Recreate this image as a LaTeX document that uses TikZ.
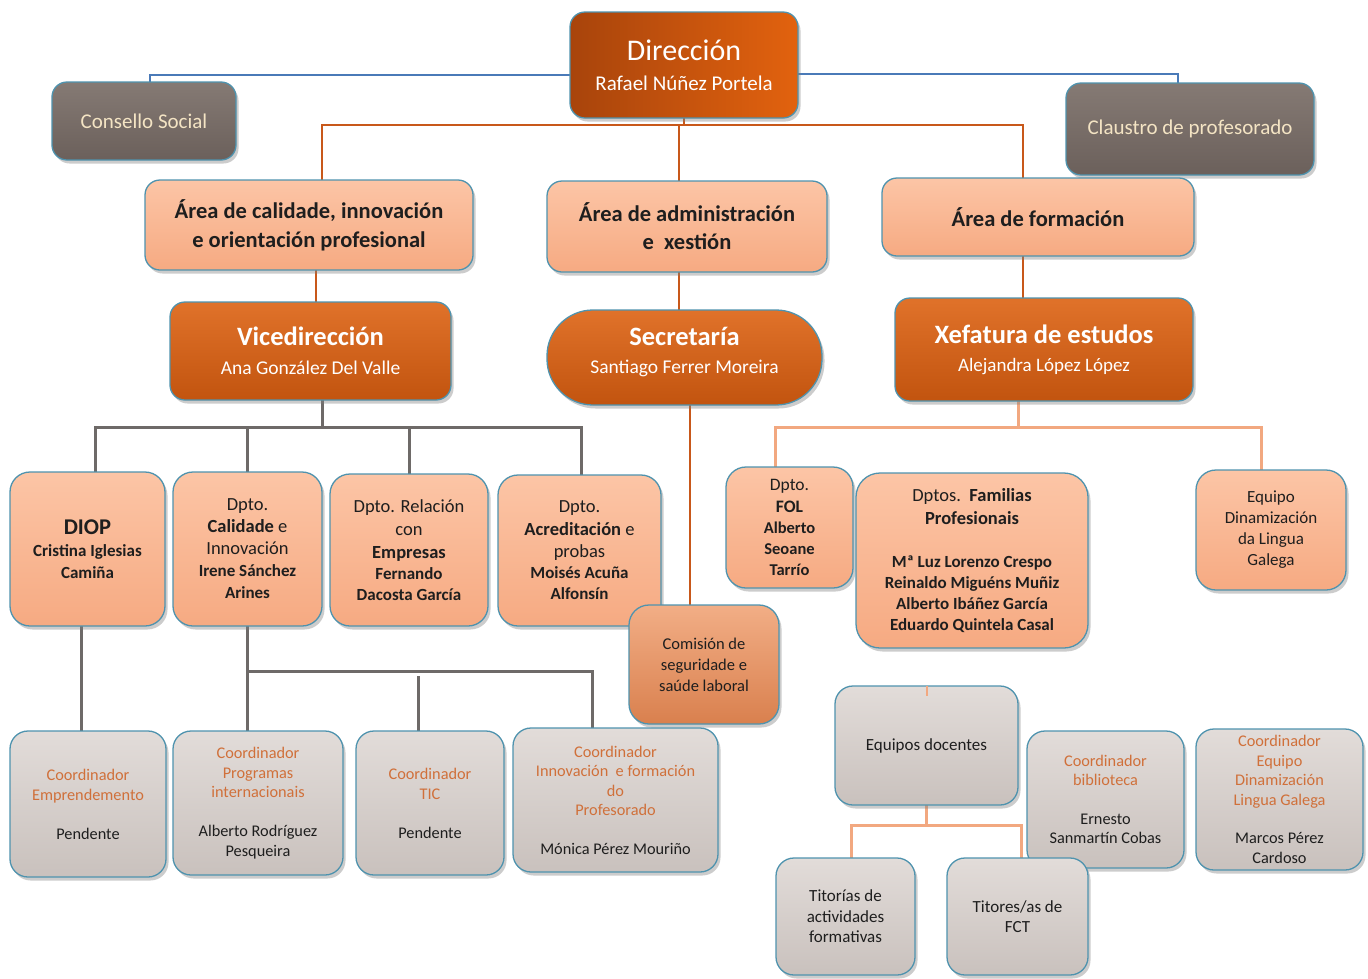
\documentclass[tikz,border=0pt]{standalone}
\usepackage{fontspec}
\setmainfont{Carlito}
\usetikzlibrary{shadows,calc}
\definecolor{bordc}{HTML}{4F93AE}
\definecolor{dkT}{HTML}{E0722A}
\definecolor{dkB}{HTML}{C2540F}
\definecolor{saT}{HTML}{FCC5A6}
\definecolor{saB}{HTML}{F6AA82}
\definecolor{gyT}{HTML}{E2DCD9}
\definecolor{gyB}{HTML}{C9C1BD}
\definecolor{brT}{HTML}{857A74}
\definecolor{brB}{HTML}{6B605B}
\definecolor{brtxt}{HTML}{F4E4C4}
\definecolor{coT}{HTML}{F2AE86}
\definecolor{coB}{HTML}{D9804E}
\definecolor{txt}{HTML}{1E1E1E}
\definecolor{coordc}{HTML}{D0703A}
\definecolor{blueln}{HTML}{4A7AB8}
\definecolor{orln}{HTML}{C8581A}
\definecolor{grln}{HTML}{6E6A68}
\definecolor{saln}{HTML}{F2A880}
\definecolor{mvln}{HTML}{A8959E}
\definecolor{dirL}{HTML}{A8440C}
\definecolor{dirR}{HTML}{E2620E}
\newcommand{\fsz}[2]{\fontsize{#1}{#2}\selectfont}
\newcommand{\co}[1]{\textcolor{coordc}{#1}}
\newcommand{\pb}[2]{\parbox{#1}{\centering #2\par}}
\begin{document}
\begin{tikzpicture}[x=1pt,y=-1pt,
  base/.style={rounded corners=15pt, draw=bordc, line width=1.3pt, inner sep=2pt, text=txt,
    drop shadow={shadow xshift=2.5pt, shadow yshift=-3.5pt, opacity=0.4}},
  darkbox/.style={base, top color=dkT, bottom color=dkB, text=white},
  salbox/.style={base, top color=saT, bottom color=saB},
  greybox/.style={base, rounded corners=18pt, top color=gyT, bottom color=gyB},
  brownbox/.style={base, top color=brT, bottom color=brB, text=brtxt},
  combox/.style={base, top color=coT, bottom color=coB},
  bluec/.style={draw=blueln, line width=2pt},
  orc/.style={draw=orln, line width=2pt},
  grc/.style={draw=grln, line width=3pt},
  sac/.style={draw=saln, line width=3pt},
  mvc/.style={draw=mvln, line width=3pt}
]
\useasboundingbox (0,0) rectangle (1368,978);
\fill[white] (0,0) rectangle (1368,978);

% bus coordinates
\coordinate (dbus) at (684,125);
\coordinate (vbus) at (322,427);
\coordinate (xbus) at (1018,427);
\coordinate (cb1) at (247,671);
\coordinate (cb2) at (592,671);
\coordinate (cb3) at (418,676);
\coordinate (eb) at (926,825);
\coordinate (sl) at (690,405);

% Geometry of the boxes (anchors for the connectors)
\path
 (684,65) node[minimum width=228pt,minimum height=106pt,inner sep=0] (dir) {}
 (144,121) node[minimum width=184pt,minimum height=78pt,inner sep=0] (cons) {}
 (1190,129) node[minimum width=248pt,minimum height=92pt,inner sep=0] (claus) {}
 (309,225) node[minimum width=328pt,minimum height=90pt,inner sep=0] (a1) {}
 (687,226.5) node[minimum width=280pt,minimum height=91pt,inner sep=0] (a2) {}
 (1038,217) node[minimum width=312pt,minimum height=78pt,inner sep=0] (a3) {}
 (310.5,351) node[minimum width=281pt,minimum height=98pt,inner sep=0] (vice) {}
 (684.5,357.5) node[minimum width=275pt,minimum height=95pt,inner sep=0] (sec) {}
 (1044,349.5) node[minimum width=298pt,minimum height=103pt,inner sep=0] (xef) {}
 (87.5,549) node[minimum width=155pt,minimum height=154pt,inner sep=0] (diop) {}
 (247.5,549) node[minimum width=149pt,minimum height=154pt,inner sep=0] (cal) {}
 (409,550) node[minimum width=158pt,minimum height=152pt,inner sep=0] (rel) {}
 (579.5,550.5) node[minimum width=163pt,minimum height=151pt,inner sep=0] (acr) {}
 (704,664.5) node[minimum width=150pt,minimum height=119pt,inner sep=0] (com) {}
 (789.5,527.5) node[minimum width=127pt,minimum height=121pt,inner sep=0] (fol) {}
 (972,560.5) node[minimum width=232pt,minimum height=175pt,inner sep=0] (fam) {}
 (1271,530) node[minimum width=150pt,minimum height=120pt,inner sep=0] (eqd) {}
 (88,804) node[minimum width=156pt,minimum height=146pt,inner sep=0] (emp) {}
 (258,803) node[minimum width=170pt,minimum height=144pt,inner sep=0] (prog) {}
 (430,803) node[minimum width=148pt,minimum height=144pt,inner sep=0] (tic) {}
 (615.5,800) node[minimum width=205pt,minimum height=144pt,inner sep=0] (inn) {}
 (926.5,745.5) node[minimum width=183pt,minimum height=119pt,inner sep=0] (eqdoc) {}
 (1105.5,799.5) node[minimum width=157pt,minimum height=137pt,inner sep=0] (bib) {}
 (1279.5,799.5) node[minimum width=167pt,minimum height=141pt,inner sep=0] (ceq) {}
 (845.5,916.5) node[minimum width=139pt,minimum height=117pt,inner sep=0] (tit) {}
 (1017.5,916.5) node[minimum width=141pt,minimum height=117pt,inner sep=0] (titfct) {};

% ---------- connectors ----------
\draw[bluec] ($(dir.west)+(0,10)$) -| ($(cons.north)+(6,0)$);
\draw[bluec] ($(dir.east)+(0,9)$) -| ($(claus.north)+(-12,0)$);
\draw[orc] ($(a1.north)+(13,0)$) |- (dbus) -| ($(a3.north)+(-15,0)$);
\draw[orc] (dir.south) -- (dbus);
\draw[orc] ($(a2.north)+(-8,0)$) -- ($(dbus)+(-5,0)$);
\draw[orc] ($(a1.south)+(7,0)$) -- ($(vice.north)+(5.5,0)$);
\draw[orc] ($(a2.south)+(-8,0)$) -- ($(sec.north)+(-5.5,0)$);
\draw[orc] ($(a3.south)+(-15,0)$) -- ($(xef.north)+(-21,0)$);
\draw[grc] ($(vice.south)+(11.5,0)$) -- (vbus);
\draw[grc] ($(diop.north)+(7.5,0)$) |- (vbus) -| ($(acr.north)+(1.5,0)$);
\draw[grc] (cal.north) -- (cal.north |- vbus);
\draw[grc] (rel.north) -- (rel.north |- vbus);
\draw[orc] (sl) -- (sl |- com.north);
\draw[sac] (xef.south -| xbus) -- (xbus);
\draw[sac] ($(fol.north)+(-14.5,0)$) |- (xbus) -| ($(eqd.north)+(-10,0)$);
\draw[sac] ($(fam.north)+(-46,0)$) -- ($(fam.north)+(-46,0)$ |- xbus);
\draw[sac] ($(bib.north)+(-2.5,0)$) -- ($(bib.north)+(-2.5,0)$ |- xbus);
\draw[mvc] ($(eqd.south)+(1,0)$) -- ($(eqd.south)+(1,0)$ |- ceq.north);
\draw[grc] ($(diop.south)+(-6.5,0)$) -- ($(emp.north)+(-7,0)$);
\draw[grc] (cal.south) -- (cal.south |- prog.north);
\draw[grc] (cb1) -- (cb2) -- (cb2 |- inn.north);
\draw[grc] (cb3) -- (cb3 |- tic.north);
\draw[sac] (eqdoc.south) -- (eqdoc.south |- eb);
\draw[sac] ($(tit.north)+(5.5,0)$) |- (eb) -| ($(titfct.north)+(3.5,0)$);

% ---------- boxes ----------
\node[base, text=white, left color=dirL, right color=dirR, minimum width=228pt, minimum height=106pt] (dirbox) at (dir)
 {\pb{220pt}{\fsz{30}{32}Dirección\\\fsz{21}{30}Rafael Núñez Portela}};
\node[brownbox, minimum width=184pt, minimum height=78pt] (consbox) at (cons) {\pb{176pt}{\fsz{21}{24}Consello Social}};
\node[brownbox, minimum width=248pt, minimum height=92pt] (clausbox) at (claus) {\pb{240pt}{\fsz{21}{24}Claustro de profesorado}};
\node[salbox, minimum width=328pt, minimum height=90pt] (a1box) at (a1)
 {\pb{320pt}{\fsz{22.5}{29}\bfseries Área de calidade, innovación\\e orientación profesional}};
\node[salbox, minimum width=280pt, minimum height=91pt] (a2box) at (a2)
 {\pb{272pt}{\fsz{22.5}{28}\bfseries Área de administración\\e\ \ xestión}};
\node[salbox, minimum width=312pt, minimum height=78pt] (a3box) at (a3)
 {\pb{304pt}{\fsz{22.5}{24}\bfseries Área de formación}};
\node[darkbox, minimum width=281pt, minimum height=98pt] (vicebox) at (vice)
 {\pb{272pt}{\fsz{26.5}{28}\bfseries Vicedirección\\\fsz{19.5}{29}\mdseries Ana González Del Valle}};
\node[darkbox, rounded corners=46pt, minimum width=275pt, minimum height=95pt] (secbox) at (sec)
 {\pb{265pt}{\fsz{26.5}{28}\bfseries Secretaría\\\fsz{19.5}{28}\mdseries Santiago Ferrer Moreira\par\vspace*{11pt}}};
\node[darkbox, minimum width=298pt, minimum height=103pt] (xefbox) at (xef)
 {\pb{290pt}{\fsz{26.5}{28}\bfseries Xefatura de estudos\\\fsz{19}{28}\mdseries Alejandra López López}};

\node[salbox, rounded corners=20pt, minimum width=155pt, minimum height=154pt] (diopbox) at (diop)
 {\pb{150pt}{\fsz{22.5}{24}\bfseries DIOP\\\fsz{17}{22}Cristina Iglesias\\Camiña}};
\node[salbox, rounded corners=20pt, minimum width=149pt, minimum height=154pt] (calbox) at (cal)
 {\pb{145pt}{\fsz{18.5}{22}Dpto.\\\textbf{Calidade} e\\Innovación\\\fsz{17}{22}\textbf{Irene Sánchez}\\\textbf{Arines}}};
\node[salbox, rounded corners=20pt, minimum width=158pt, minimum height=152pt] (relbox) at (rel)
 {\pb{154pt}{\fsz{18.5}{23}Dpto. Relación\\con\\\textbf{Empresas}\\\fsz{17}{21}\textbf{Fernando}\\\textbf{Dacosta García}}};
\node[salbox, rounded corners=20pt, minimum width=163pt, minimum height=151pt] (acrbox) at (acr)
 {\pb{159pt}{\fsz{18.5}{22.5}Dpto.\\\textbf{Acreditación} e\\probas\\\fsz{17}{21}\textbf{Moisés Acuña}\\\textbf{Alfonsín}}};
\node[combox, rounded corners=20pt, minimum width=150pt, minimum height=119pt] (combox) at (com)
 {\pb{145pt}{\fsz{16.5}{21}Comisión de\\seguridade e\\saúde laboral}};
\node[salbox, rounded corners=20pt, minimum width=127pt, minimum height=121pt] (folbox) at (fol)
 {\pb{122pt}{\fsz{17.5}{22}Dpto.\\\textbf{FOL}\\\fsz{16.5}{21}\textbf{Alberto}\\\textbf{Seoane}\\\textbf{Tarrío}}};
\node[salbox, rounded corners=24pt, minimum width=232pt, minimum height=175pt] (fambox) at (fam)
 {\pb{226pt}{\fsz{18.5}{23}Dptos.\ \ \textbf{Familias}\\\textbf{Profesionais}\\[22pt]\fsz{17}{21}\bfseries Mª Luz Lorenzo Crespo\\Reinaldo Miguéns Muñiz\\Alberto Ibáñez García\\Eduardo Quintela Casal}};
\node[salbox, rounded corners=20pt, minimum width=150pt, minimum height=120pt] (eqdbox) at (eqd)
 {\pb{145pt}{\fsz{17}{21}Equipo\\Dinamización\\da Lingua\\Galega}};

\node[greybox, minimum width=156pt, minimum height=146pt] (empbox) at (emp)
 {\pb{150pt}{\fsz{16.3}{20}\co{Coordinador}\\\co{Emprendemento}\\[19pt]Pendente}};
\node[greybox, minimum width=170pt, minimum height=144pt] (progbox) at (prog)
 {\pb{164pt}{\fsz{16.3}{19.5}\co{Coordinador}\\\co{Programas}\\\co{internacionais}\\[19.5pt]Alberto Rodríguez\\Pesqueira}};
\node[greybox, minimum width=148pt, minimum height=144pt] (ticbox) at (tic)
 {\pb{142pt}{\fsz{16.3}{20}\co{Coordinador}\\\co{TIC}\\[19pt]Pendente}};
\node[greybox, minimum width=205pt, minimum height=144pt] (innbox) at (inn)
 {\pb{199pt}{\fsz{16.3}{19.5}\co{Coordinador}\\\co{Innovación\ \ e formación}\\\co{do}\\\co{Profesorado}\\[19pt]Mónica Pérez Mouriño}};
\node[greybox, minimum width=183pt, minimum height=119pt] (eqdocbox) at (eqdoc)
 {\pb{177pt}{\fsz{17}{20}Equipos docentes}};
\node[greybox, minimum width=157pt, minimum height=137pt] (bibbox) at (bib)
 {\pb{151pt}{\fsz{16.3}{19.5}\co{Coordinador}\\\co{biblioteca}\\[19pt]Ernesto\\Sanmartín Cobas}};
\node[greybox, minimum width=167pt, minimum height=141pt] (ceqbox) at (ceq)
 {\pb{161pt}{\fsz{16.3}{19.5}\co{Coordinador}\\\co{Equipo}\\\co{Dinamización}\\\co{Lingua Galega}\\[19pt]Marcos Pérez\\Cardoso}};
\node[greybox, minimum width=139pt, minimum height=117pt] (titbox) at (tit)
 {\pb{133pt}{\fsz{17}{20.5}Titorías de\\actividades\\formativas}};
\node[greybox, minimum width=141pt, minimum height=117pt] (titfctbox) at (titfct)
 {\pb{135pt}{\fsz{17}{20.5}Titores/as de\\FCT}};

% small stub on Equipos docentes
\draw[sac, line width=2pt] (eqdoc.north) -- ++(0,10);
\end{tikzpicture}
\end{document}
